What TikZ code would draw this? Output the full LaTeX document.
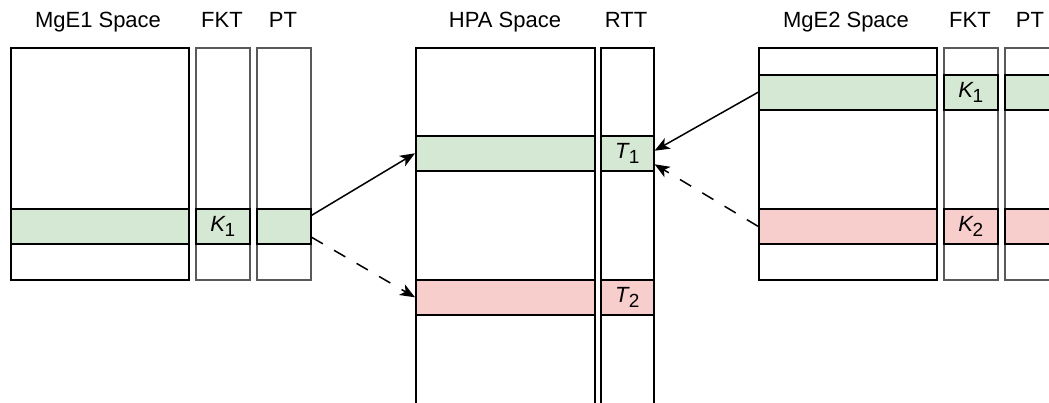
\documentclass[tikz,border=0pt]{standalone}
\usepackage{fontspec}
\setmainfont{Liberation Sans}
\usetikzlibrary{arrows.meta,calc}
\tikzset{
  bigbox/.style={draw=black, line width=1.6pt, fill=white, inner sep=0pt, anchor=north west},
  thinbox/.style={draw=black!65, line width=1.6pt, fill=white, inner sep=0pt, anchor=north west},
  gband/.style={draw=black, line width=1.6pt, fill={rgb,255:red,213;green,232;blue,212}, inner sep=0pt, anchor=north west, font=\fontsize{22}{24}\selectfont},
  rband/.style={draw=black, line width=1.6pt, fill={rgb,255:red,248;green,206;blue,204}, inner sep=0pt, anchor=north west, font=\fontsize{22}{24}\selectfont},
  lbl/.style={font=\fontsize{22}{26}\selectfont, inner sep=0pt, anchor=base},
  conn/.style={line width=1.5pt, -{Stealth[length=15pt,width=12pt,inset=4pt]}},
  dconn/.style={conn, dash pattern=on 13pt off 13pt},
}
\newcommand{\mysub}[2]{\textit{#1}\kern-0.05em\raisebox{-0.45ex}{\fontsize{19}{20}\selectfont #2}}
\begin{document}
\begin{tikzpicture}[x=1pt,y=-1pt]
\useasboundingbox (0,0) rectangle (1049,403);
\clip (0,0) rectangle (1049,403);
% labels
\node[lbl] (tl1) at (98,28) {MgE1 Space};
\node[lbl] (tl2) at (222,28) {FKT};
\node[lbl] (tl3) at (283,28) {PT};
\node[lbl] (tm1) at (505,28) {HPA Space};
\node[lbl] (tm2) at (626,28) {RTT};
\node[lbl] (tr1) at (846,28) {MgE2 Space};
\node[lbl] (tr2) at (970,28) {FKT};
\node[lbl] (tr3) at (1030,28) {PT};
% left group
\node[bigbox, minimum width=178pt, minimum height=232pt] (m1) at (10,47) {};
\node[thinbox, minimum width=54pt, minimum height=232pt] (fk1) at (195,47) {};
\node[thinbox, minimum width=54pt, minimum height=232pt] (pt1) at (256,47) {};
\node[gband, minimum width=178pt, minimum height=35pt] (m1g) at (10,208) {};
\node[gband, minimum width=54pt, minimum height=35pt] (fk1g) at (195,208) {\mysub{K}{1}};
\node[gband, minimum width=54pt, minimum height=35pt] (pt1g) at (256,208) {};
% middle group
\node[bigbox, minimum width=179pt, minimum height=380pt] (hpa) at (415,47) {};
\node[bigbox, minimum width=53pt, minimum height=380pt] (rtt) at (600,47) {};
\node[gband, minimum width=179pt, minimum height=35pt] (hpag) at (415,135) {};
\node[gband, minimum width=53pt, minimum height=35pt] (rttg) at (600,135) {\mysub{T}{1}};
\node[rband, minimum width=179pt, minimum height=35pt] (hpar) at (415,279) {};
\node[rband, minimum width=53pt, minimum height=35pt] (rttr) at (600,279) {\mysub{T}{2}};
% right group
\node[bigbox, minimum width=178pt, minimum height=232pt] (m2) at (758,47) {};
\node[thinbox, minimum width=54pt, minimum height=232pt] (fk2) at (943,47) {};
\node[thinbox, minimum width=60pt, minimum height=232pt] (pt2) at (1004,47) {};
\node[gband, minimum width=178pt, minimum height=35pt] (m2g) at (758,74) {};
\node[gband, minimum width=54pt, minimum height=35pt] (fk2g) at (943,74) {\mysub{K}{1}};
\node[gband, minimum width=60pt, minimum height=35pt] (pt2g) at (1004,74) {};
\node[rband, minimum width=178pt, minimum height=35pt] (m2r) at (758,208) {};
\node[rband, minimum width=54pt, minimum height=35pt] (fk2r) at (943,208) {\mysub{K}{2}};
\node[rband, minimum width=60pt, minimum height=35pt] (pt2r) at (1004,208) {};
% connectors
\draw[conn] ($(pt1g.north east)!0.2!(pt1g.south east)$) -- (hpag.west);
\draw[dconn] ($(pt1g.north east)!0.8!(pt1g.south east)$) -- (hpar.west);
\draw[conn] (m2g.west) -- ($(rttg.north east)!0.43!(rttg.south east)$);
\draw[dconn] (m2r.west) -- ($(rttg.north east)!0.8!(rttg.south east)$);
\end{tikzpicture}
\end{document}
